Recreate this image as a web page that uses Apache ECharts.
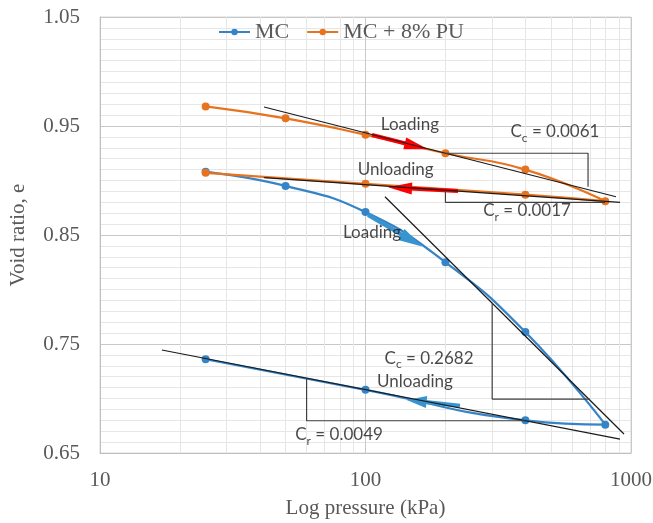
<!DOCTYPE html>
<html>
<head>
<meta charset="utf-8">
<script src="https://cdn.jsdelivr.net/npm/echarts@6/dist/echarts.min.js"></script>
<style>
  html, body { margin: 0; padding: 0; background: #ffffff; }
  #chart { width: 653px; height: 523px; }
</style>
</head>
<body>
<div id="chart"></div>
<script>
// e - log p data
var pressure = [25, 50, 100, 200, 400, 800, 400, 100, 25]
var voidMC = [0.908, 0.895, 0.871, 0.825, 0.761, 0.676, 0.680, 0.708, 0.736]
var voidPU = [0.968, 0.957, 0.942, 0.925, 0.910, 0.881, 0.887, 0.897, 0.907]

// minor vertical gridlines (kPa)
var minorPressure = [20, 30, 40, 50, 60, 70, 80, 90, 200, 300, 400, 500, 600, 700, 800, 900]

// tangent lines [p, e]
var tanPULoad = [[41.5, 0.9674], [878, 0.8851]]
var tanPUUnload = [[41.5, 0.9026], [909, 0.880]]
var tanMCLoad = [[118.4, 0.8851], [941, 0.6674]]
var tanMCUnload = [[17.1, 0.7445], [909, 0.6628]]

// slope triangles
var triPUCc = [[200, 0.925], [689, 0.925], [689, 0.8943]]
var triPUCr = [[200, 0.8897], [200, 0.880], [800, 0.880]]
var triMCCc = [[300, 0.7873], [300, 0.6995], [700, 0.6995]]
var triMCCr = [[60, 0.7185], [60, 0.6796], [400, 0.6796]]

// direction arrows [start, end]
var arrowPULoad = [[105.8, 0.9417], [155.5, 0.9314]]
var arrowPUUnload = [[223, 0.8904], [134.9, 0.8932]]
var arrowMCLoad = [[102.2, 0.8683], [149.3, 0.8449]]
var arrowMCUnload = [[227, 0.6934], [155.8, 0.6977]]

// annotations [p, e, text]
var notes = [
  [147, 0.9491, '{b|Loading}'],
  [517, 0.9427, '{b|C}{s|c}{b| = 0.0061}'],
  [130, 0.9078, '{b|Unloading}'],
  [406, 0.8702, '{b|C}{s|r}{b| = 0.0017}'],
  [105.8, 0.850, '{b|Loading}'],
  [173.5, 0.7353, '{b|C}{s|c}{b| = 0.2682}'],
  [153.6, 0.7133, '{b|Unloading}'],
  [79.5, 0.6650, '{b|C}{s|r}{b| = 0.0049}']
]

var blue = '#3584c8'
var orange = '#e8731f'
var serif = 'Liberation Serif'

function zip(xs, ys) {
  return xs.map(function(x, i) { return [x, ys[i]] })
}

function helperLine(name, data, color) {
  return {
    name: name,
    type: 'line',
    data: data,
    showSymbol: false,
    symbol: 'none',
    silent: true,
    z: 5,
    lineStyle: { color: color, width: 1.2 }
  }
}

function arrow(name, coords, color, head) {
  return {
    name: name,
    type: 'lines',
    coordinateSystem: 'cartesian2d',
    silent: true,
    z: 4,
    symbol: ['none', 'triangle'],
    symbolSize: [0, head],
    lineStyle: { color: color, width: 4, opacity: 1 },
    itemStyle: { color: color },
    data: [{ coords: coords }]
  }
}

var chart = echarts.init(document.getElementById('chart'))
var option = {
  animation: false,
  backgroundColor: '#ffffff',
  grid: {
    left: 100,
    right: 22,
    top: 17,
    bottom: 70,
    outerBoundsMode: 'none',
    show: true,
    borderColor: '#d9d9d9',
    borderWidth: 1
  },
  legend: {
    left: 213,
    top: 16,
    itemWidth: 31,
    itemHeight: 8,
    itemGap: 17,
    data: ['MC', 'MC + 8% PU'],
    textStyle: { fontFamily: serif, fontSize: 22, color: '#595959' }
  },
  xAxis: {
    type: 'log',
    logBase: 10,
    min: 10,
    max: 1000,
    name: 'Log pressure (kPa)',
    nameLocation: 'middle',
    nameGap: 45,
    nameTextStyle: { fontFamily: serif, fontSize: 21, color: '#595959' },
    axisLine: { lineStyle: { color: '#bfbfbf' } },
    axisTick: { show: false },
    axisLabel: {
      margin: 17,
      fontFamily: serif,
      fontSize: 21,
      color: '#595959',
      formatter: function(v) { return String(Math.round(v)) }
    },
    splitLine: { show: true, lineStyle: { color: '#c8c8c8' } }
  },
  yAxis: {
    type: 'value',
    min: 0.65,
    max: 1.05,
    interval: 0.01,
    name: 'Void ratio, e',
    nameLocation: 'middle',
    nameGap: 71,
    nameTextStyle: { fontFamily: serif, fontSize: 21, color: '#595959' },
    axisLine: { show: true, lineStyle: { color: '#bfbfbf' } },
    axisTick: { show: false },
    axisLabel: {
      margin: 20,
      fontFamily: serif,
      fontSize: 21,
      color: '#595959',
      formatter: function(v) {
        var k = Math.round(v * 100)
        return (k - 65) % 10 === 0 ? v.toFixed(2) : ''
      }
    },
    splitLine: {
      show: true,
      lineStyle: {
        color: ['#c8c8c8', '#e6e6e6', '#e6e6e6', '#e6e6e6', '#e6e6e6',
          '#e6e6e6', '#e6e6e6', '#e6e6e6', '#e6e6e6', '#e6e6e6']
      }
    }
  },
  series: [
    {
      name: 'minor',
      type: 'line',
      data: [],
      silent: true,
      z: 1,
      markLine: {
        z: 1,
        silent: true,
        symbol: 'none',
        label: { show: false },
        lineStyle: { color: '#e6e6e6', width: 1, type: 'solid' },
        data: minorPressure.map(function(p) { return { xAxis: p } })
      }
    },
    {
      name: 'MC',
      type: 'line',
      data: zip(pressure, voidMC),
      smooth: 0.5,
      symbol: 'circle',
      symbolSize: 8,
      z: 3,
      color: blue,
      lineStyle: { color: blue, width: 2.25 },
      itemStyle: { color: blue }
    },
    {
      name: 'MC + 8% PU',
      type: 'line',
      data: zip(pressure, voidPU),
      smooth: 0.5,
      symbol: 'circle',
      symbolSize: 8,
      z: 3,
      color: orange,
      lineStyle: { color: orange, width: 2.25 },
      itemStyle: { color: orange }
    },
    arrow('aPUL', arrowPULoad, '#ff0000', [12, 24]),
    arrow('aPUU', arrowPUUnload, '#ff0000', [12, 24]),
    arrow('aMCL', arrowMCLoad, '#3894cf', [13, 24]),
    arrow('aMCU', arrowMCUnload, '#3894cf', [12, 20]),
    helperLine('t1', tanPULoad, '#1a1a1a'),
    helperLine('t2', tanPUUnload, '#1a1a1a'),
    helperLine('t3', tanMCLoad, '#1a1a1a'),
    helperLine('t4', tanMCUnload, '#1a1a1a'),
    helperLine('r1', triPUCc, '#404040'),
    helperLine('r2', triPUCr, '#404040'),
    helperLine('r3', triMCCc, '#404040'),
    helperLine('r4', triMCCr, '#404040'),
    {
      name: 'notes',
      type: 'scatter',
      data: notes,
      symbolSize: 0,
      silent: true,
      z: 6,
      label: {
        show: true,
        position: 'inside',
        formatter: function(p) { return p.data[2] },
        rich: {
          b: { fontFamily: 'Lato', fontSize: 17, color: '#1a1a1a', verticalAlign: 'bottom', padding: [0, 0, 4, 0] },
          s: { fontFamily: 'Lato', fontSize: 12, color: '#1a1a1a', verticalAlign: 'bottom' }
        }
      }
    }
  ]
}
chart.setOption(option)
window.addEventListener('resize', function() {
  chart.resize()
})
</script>
</body>
</html>
